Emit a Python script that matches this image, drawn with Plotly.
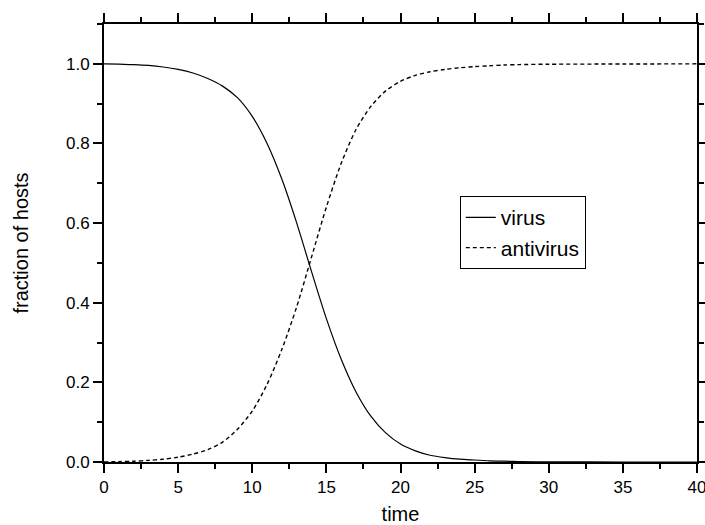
import plotly.graph_objects as go

t_virus = [0, 1, 2, 3, 4, 5, 6, 7, 8, 9, 10, 11, 12, 13, 14, 15, 16, 17, 18,
           19, 20, 21, 22, 23, 24, 25, 26, 27, 28, 30, 35, 40]
virus = [1.0, 0.999, 0.998, 0.996, 0.992, 0.986, 0.977, 0.963, 0.944, 0.915,
         0.868, 0.800, 0.710, 0.600, 0.478, 0.360, 0.258, 0.176, 0.115, 0.073, 0.045,
         0.028, 0.017, 0.011, 0.007, 0.005, 0.003, 0.002, 0.001, 0.0005, 0.0, 0.0]

t_anti = [0, 1, 2, 3, 4, 5, 6, 7, 8, 9, 10, 11, 12, 13, 14, 15, 16, 17, 18, 19,
          20, 21, 22, 23, 24, 25, 26, 27, 28, 30, 35, 40]
antivirus = [0.0, 0.001, 0.002, 0.004, 0.007, 0.012, 0.020, 0.031, 0.050, 0.082,
             0.128, 0.195, 0.283, 0.390, 0.515, 0.640, 0.750, 0.835, 0.893, 0.932,
             0.956, 0.971, 0.980, 0.986, 0.990, 0.993, 0.995, 0.997, 0.998, 0.999,
             0.9995, 1.0]

x_ticks = [0, 5, 10, 15, 20, 25, 30, 35, 40]
y_ticks = [0.0, 0.2, 0.4, 0.6, 0.8, 1.0]

FONT = "Arial, Liberation Sans, sans-serif"

fig = go.Figure()
fig.add_trace(go.Scatter(x=t_virus, y=virus, mode="lines", name="virus",
                         line=dict(color="black", width=1.2, shape="spline", smoothing=0.8)))
fig.add_trace(go.Scatter(x=t_anti, y=antivirus, mode="lines", name="antivirus",
                         line=dict(color="black", width=1.4, dash="4px,3px",
                                   shape="spline", smoothing=0.8)))

axis_common = dict(
    showgrid=False, zeroline=False, showline=True, linecolor="black", linewidth=2,
    mirror="allticks", ticks="outside", tickcolor="black", tickwidth=1.5, ticklen=9,
    tickfont=dict(family=FONT, size=17, color="black"), automargin=False,
    ticklabeloverflow="allow",
)

fig.update_layout(
    width=705, height=525, autosize=False,
    margin=dict(l=104, r=8, t=24, b=63),
    paper_bgcolor="white", plot_bgcolor="white",
    font=dict(family=FONT, color="black"),
    xaxis=dict(range=[0, 40], tickvals=x_ticks, ticktext=[str(v) for v in x_ticks],
               title=dict(text="time", font=dict(family=FONT, size=20), standoff=16),
               minor=dict(dtick=2.5, tick0=0, ticks="outside", ticklen=5,
                          tickcolor="black", tickwidth=1.5),
               **axis_common),
    yaxis=dict(range=[0, 1.1], tickvals=y_ticks, ticktext=[f"{v:.1f}" for v in y_ticks],
               title=dict(text="fraction of hosts", font=dict(family=FONT, size=20), standoff=32),
               minor=dict(dtick=0.1, tick0=0, ticks="outside", ticklen=5,
                          tickcolor="black", tickwidth=1.5),
               **axis_common),
    legend=dict(x=0.6, y=0.607, xanchor="left", yanchor="top",
                bgcolor="white", bordercolor="black", borderwidth=1,
                font=dict(family=FONT, size=21, color="black"),
                tracegroupgap=0, itemwidth=30),
    showlegend=True,
)

fig.write_html("out.html")
